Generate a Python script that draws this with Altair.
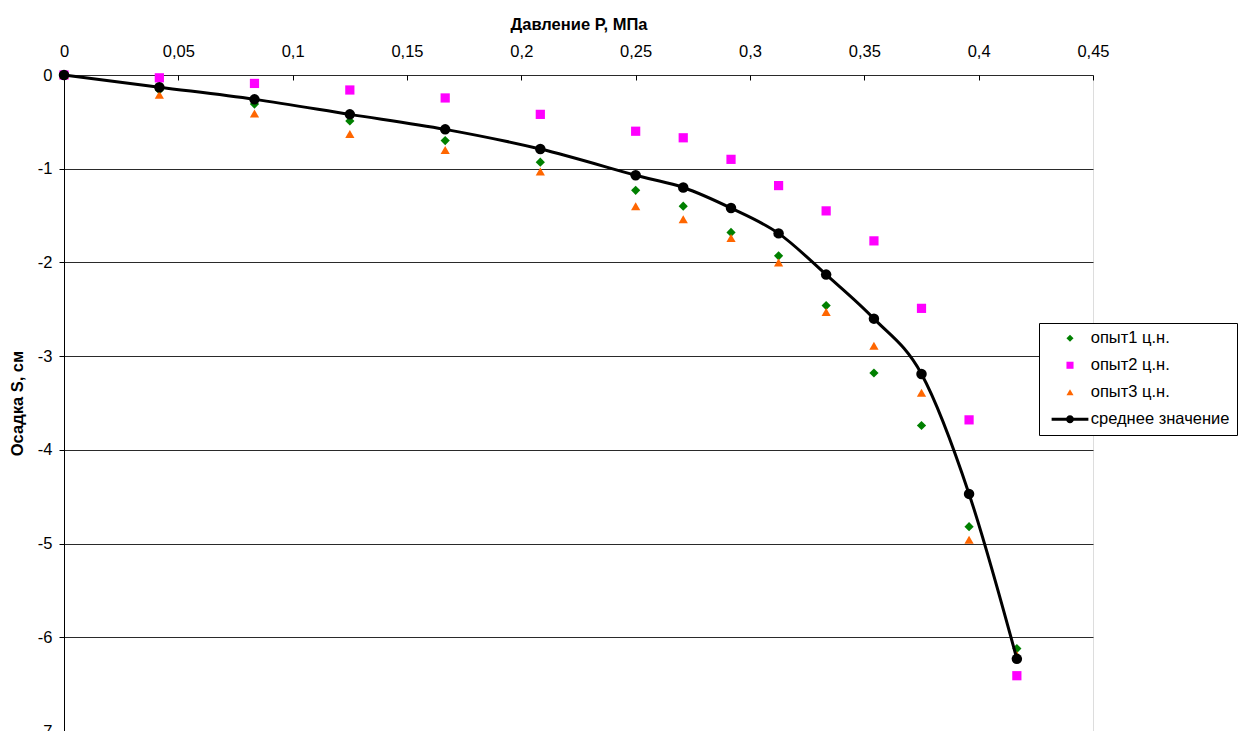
import altair as alt
import pandas as pd

# ---- data ----
pressure = [0, 0.0417, 0.0833, 0.125, 0.1667, 0.2083, 0.25, 0.2708, 0.2917,
            0.3125, 0.3333, 0.3542, 0.375, 0.3958, 0.4167]
s1 = [0, -0.16, -0.31, -0.49, -0.70, -0.93, -1.23, -1.40, -1.68, -1.93,
      -2.46, -3.18, -3.74, -4.82, -6.12]
s2 = [0, -0.03, -0.09, -0.16, -0.245, -0.42, -0.60, -0.67, -0.90, -1.18,
      -1.45, -1.77, -2.49, -3.68, -6.41]
s3 = [0, -0.21, -0.41, -0.63, -0.80, -1.03, -1.40, -1.54, -1.74, -2.00,
      -2.53, -2.89, -3.39, -4.96, -6.19]
mean = [0, -0.13, -0.26, -0.42, -0.58, -0.79, -1.07, -1.20, -1.42, -1.69,
        -2.13, -2.60, -3.19, -4.47, -6.23]

series_names = ["опыт1 ц.н.", "опыт2 ц.н.", "опыт3 ц.н.", "среднее значение"]
series_colors = ["#008000", "#FF00FF", "#FF6600", "#000000"]
x_ticks = [0, 0.05, 0.1, 0.15, 0.2, 0.25, 0.3, 0.35, 0.4, 0.45]
y_ticks = [-7, -6, -5, -4, -3, -2, -1, 0]

# legend glyph for the mean series: line with a dot
mean_symbol = ("M-5.2,-0.42L5.2,-0.42L5.2,0.42L-5.2,0.42Z"
               "M1.13,0A1.13,1.13,0,1,1,-1.13,0A1.13,1.13,0,1,1,1.13,0Z")
series_shapes = ["diamond", "square", "triangle-up", mean_symbol]

rows = []
for name, vals in zip(series_names[:3], [s1, s2, s3]):
    for p, v in zip(pressure, vals):
        rows.append({"P": p, "S": v, "series": name})
pts_df = pd.DataFrame(rows)
mean_df = pd.DataFrame({"P": pressure, "S": mean})

FONT = "Liberation Sans"
FS = 16.5

x_enc = alt.X(
    "P:Q",
    scale=alt.Scale(domain=[0, 0.45], nice=False, zero=False),
    axis=alt.Axis(
        orient="top", values=x_ticks,
        labelExpr="replace(format(datum.value, '.2~f'), '.', ',')",
        domain=False, offset=-5, tickSize=5, tickColor="black", tickWidth=1,
        grid=False, labelFontSize=FS, labelColor="black", labelFont=FONT,
        labelBaseline="alphabetic", labelPadding=19, labelFlush=False,
        labelOverlap=False,
        title="Давление P, МПа", titleFontSize=FS, titleFontWeight="bold",
        titleColor="black", titleFont=FONT, titleBaseline="alphabetic",
        titleY=-51, titleX=514.5,
    ),
)
y_enc = alt.Y(
    "S:Q",
    scale=alt.Scale(domain=[-7, 0], nice=False, zero=False),
    axis=alt.Axis(
        orient="left", values=y_ticks, labelExpr="toString(datum.value)",
        domain=True, domainColor="black", domainWidth=1,
        tickSize=5, tickColor="black", tickWidth=1,
        grid=True, gridColor="#2a2a2a", gridWidth=1,
        labelFontSize=FS, labelColor="black", labelFont=FONT, labelPadding=7,
        labelFlush=False, labelOverlap=False,
        title="Осадка S, см", titleFontSize=FS, titleFontWeight="bold",
        titleColor="black", titleFont=FONT, titleBaseline="middle",
        titleX=-47, titleY=328,
    ),
)

points = alt.Chart(pts_df).mark_point(filled=True, size=85, opacity=1).encode(
    x=x_enc,
    y=y_enc,
    color=alt.Color(
        "series:N",
        scale=alt.Scale(domain=series_names, range=series_colors),
        legend=alt.Legend(
            title=None, orient="none", legendX=975, legendY=248,
            strokeColor="black", fillColor="white", padding=7,
            symbolSize=50, symbolOffset=15.75, labelOffset=12.5,
            labelFontSize=FS, labelFont=FONT, labelColor="black",
            rowPadding=10, symbolStrokeWidth=0,
        ),
    ),
    shape=alt.Shape(
        "series:N",
        scale=alt.Scale(domain=series_names, range=series_shapes),
    ),
)

line = alt.Chart(mean_df).mark_line(
    color="black", strokeWidth=3, interpolate="cardinal"
).encode(x=x_enc, y=y_enc)

dots = alt.Chart(mean_df).mark_circle(
    color="black", size=110, opacity=1
).encode(x=x_enc, y=y_enc)

chart = alt.layer(points, line, dots).properties(
    width=1029, height=656,
    autosize=alt.AutoSizeParams(type="none"),
    padding={"left": 56, "top": 67, "right": 151, "bottom": 0},
).configure_view(stroke="transparent").configure(font=FONT)

chart.save("out.html", embed_options={"renderer": "svg", "actions": False})
